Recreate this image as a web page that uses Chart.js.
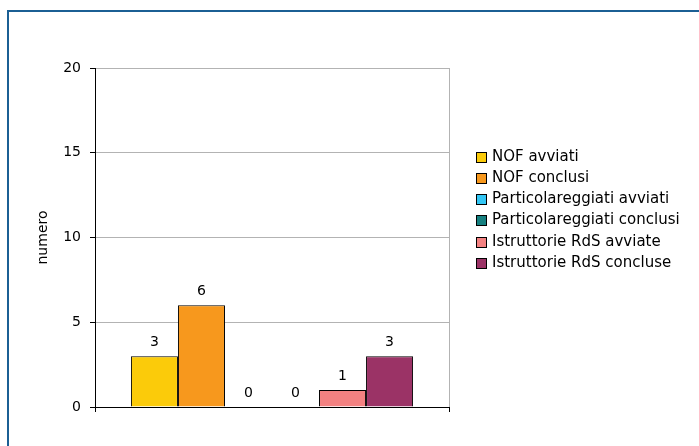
<!DOCTYPE html>
<html>
<head>
<meta charset="utf-8">
<script src="https://cdn.jsdelivr.net/npm/chart.js@4/dist/chart.umd.min.js"></script>
<style>
  html, body { margin: 0; padding: 0; background: #fff; }
  #wrap { position: relative; width: 699px; height: 446px; overflow: hidden; }
  #frame { position: absolute; left: 7px; top: 10px; width: 800px; height: 600px;
           border-top: 2px solid #1b5f94; border-left: 2px solid #1b5f94; box-sizing: border-box; pointer-events: none; }
  canvas { position: absolute; left: 0; top: 0; }
</style>
</head>
<body>
<div id="wrap">
  <canvas id="c" width="699" height="446"></canvas>
  <div id="frame"></div>
</div>
<script>
const categories = [''];
const seriesNames = ['NOF avviati', 'NOF conclusi', 'Particolareggiati avviati', 'Particolareggiati conclusi', 'Istruttorie RdS avviate', 'Istruttorie RdS concluse'];
const nofAvviati = [3];
const nofConclusi = [6];
const partAvviati = [0];
const partConclusi = [0];
const rdsAvviate = [1];
const rdsConcluse = [3];
const seriesColors = ['#FBCB0A', '#F7981D', '#33C6F4', '#168080', '#F38181', '#9B3366'];
const yTicks = [0, 5, 10, 15, 20];
const yTitle = 'numero';

const seriesValues = [nofAvviati, nofConclusi, partAvviati, partConclusi, rdsAvviate, rdsConcluse];
const FONT = '"DejaVu Sans", sans-serif';

const valueLabels = {
  id: 'valueLabels',
  afterDatasetsDraw(chart) {
    const ctx = chart.ctx;
    ctx.save();
    ctx.font = '14px ' + FONT;
    ctx.fillStyle = '#000';
    ctx.textAlign = 'center';
    ctx.textBaseline = 'alphabetic';
    chart.data.datasets.forEach((ds, i) => {
      const meta = chart.getDatasetMeta(i);
      meta.data.forEach((bar, j) => {
        ctx.fillText(String(ds.data[j]), bar.x, bar.y - 10.5);
      });
    });
    ctx.restore();
  }
};

const sideLegend = {
  id: 'sideLegend',
  afterDraw(chart) {
    const ctx = chart.ctx;
    ctx.save();
    ctx.font = '15px ' + FONT;
    ctx.textAlign = 'left';
    ctx.textBaseline = 'middle';
    const x0 = 476, y0 = 156.5, step = 21.33, box = 10;
    chart.data.datasets.forEach((ds, i) => {
      const cy = Math.round(y0 + i * step);
      ctx.fillStyle = ds.backgroundColor;
      ctx.fillRect(x0, cy - 5, box, box);
      ctx.strokeStyle = '#000';
      ctx.lineWidth = 1;
      ctx.strokeRect(x0 + 0.5, cy - 5 + 0.5, box, box);
      ctx.fillStyle = '#000';
      ctx.fillText(ds.label, 492, cy + 0.5);
    });
    ctx.restore();
  }
};

new Chart(document.getElementById('c'), {
  type: 'bar',
  data: {
    labels: categories,
    datasets: seriesNames.map((name, i) => ({
      label: name,
      data: seriesValues[i],
      backgroundColor: seriesColors[i],
      borderColor: '#000',
      borderWidth: 1,
      categoryPercentage: 0.797,
      barPercentage: 1
    }))
  },
  options: {
    responsive: false,
    animation: false,
    layout: { padding: { left: 9, right: 250, top: 68, bottom: 0 } },
    plugins: { legend: { display: false }, tooltip: { enabled: false } },
    scales: {
      x: {
        offset: true,
        grid: { color: '#b3b3b3', tickColor: '#000', tickLength: 5, offset: true },
        border: { color: '#000', width: 1 },
        ticks: { display: false },
        afterFit(scale) { scale.height = 39; }
      },
      y: {
        min: 0, max: 20,
        afterBuildTicks(scale) { scale.ticks = yTicks.map(v => ({ value: v })); },
        grid: { color: '#b3b3b3', tickColor: '#000', tickLength: 5 },
        border: { color: '#000', width: 1 },
        ticks: { color: '#000', font: { family: FONT, size: 14 }, padding: 9 },
        title: { display: true, text: yTitle, color: '#000', font: { family: FONT, size: 14 }, padding: { top: 26, bottom: 0 } },
        afterFit(scale) { scale.width = 86; }
      }
    }
  },
  plugins: [valueLabels, sideLegend]
});
</script>
</body>
</html>
